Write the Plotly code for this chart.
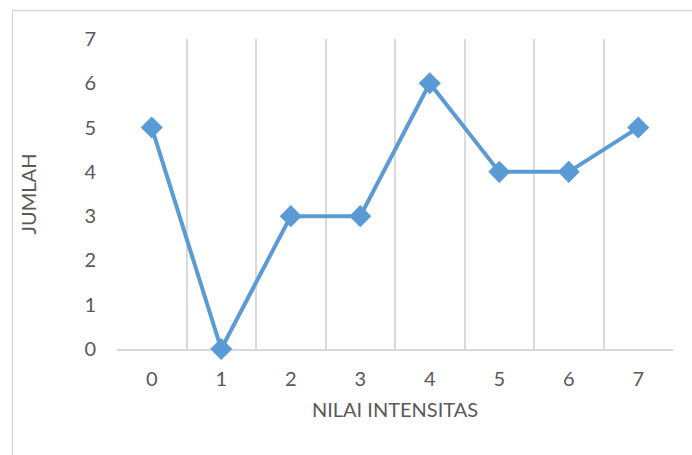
import plotly.graph_objects as go

# Frequency of each intensity value
nilai_intensitas = [0, 1, 2, 3, 4, 5, 6, 7]
jumlah = [5, 0, 3, 3, 6, 4, 4, 5]

W, H = 692, 455
L, R, T, B = 117, 19, 39, 106
pw, ph = W - L - R, H - T - B

line_color = "#5B9BD5"
grid_color = "#D9D9D9"
text_color = "#595959"
font_family = "Lato, 'Open Sans', sans-serif"
fs = 20

fig = go.Figure()
fig.add_trace(go.Scatter(
    x=nilai_intensitas,
    y=jumlah,
    mode="lines+markers",
    line=dict(color=line_color, width=4),
    marker=dict(symbol="diamond", size=17, color=line_color,
                line=dict(width=0)),
    cliponaxis=False,
    showlegend=False,
    hoverinfo="x+y",
))

# chart frame (pixel position converted to paper units)
def px_x(p):
    return (p - L) / pw

def px_y(p):
    return (H - B - p) / ph

fig.add_shape(type="rect", xref="paper", yref="paper",
              x0=px_x(12.5), x1=px_x(720), y0=px_y(470), y1=px_y(10.5),
              line=dict(color=grid_color, width=1.3), layer="below")

fig.update_layout(
    width=W, height=H,
    margin=dict(l=L, r=R, t=T, b=B),
    paper_bgcolor="white",
    plot_bgcolor="white",
    font=dict(family=font_family, color=text_color, size=fs),
    xaxis=dict(
        range=[-0.5, 7.5],
        tickmode="array",
        tickvals=nilai_intensitas,
        ticktext=[str(v) for v in nilai_intensitas],
        showgrid=False,
        zeroline=False,
        showline=True,
        linecolor=grid_color,
        linewidth=1.5,
        layer="below traces",
        ticks="",
        ticklen=0,
        ticklabelstandoff=11,
        tickfont=dict(size=fs, color=text_color),
        minor=dict(tick0=-0.5, dtick=1, showgrid=True, gridcolor=grid_color,
                   gridwidth=1.5, ticks=""),
        title=dict(text="NILAI INTENSITAS", font=dict(size=fs, color=text_color),
                   standoff=14),
        fixedrange=True,
    ),
    yaxis=dict(
        range=[0, 7],
        tickmode="array",
        tickvals=list(range(0, 8)),
        showgrid=False,
        zeroline=False,
        showline=False,
        layer="below traces",
        ticks="",
        ticklabelstandoff=20,
        tickfont=dict(size=fs, color=text_color),
        title=dict(text="JUMLAH", font=dict(size=fs, color=text_color),
                   standoff=42),
        fixedrange=True,
    ),
)

fig.write_html("out.html")
